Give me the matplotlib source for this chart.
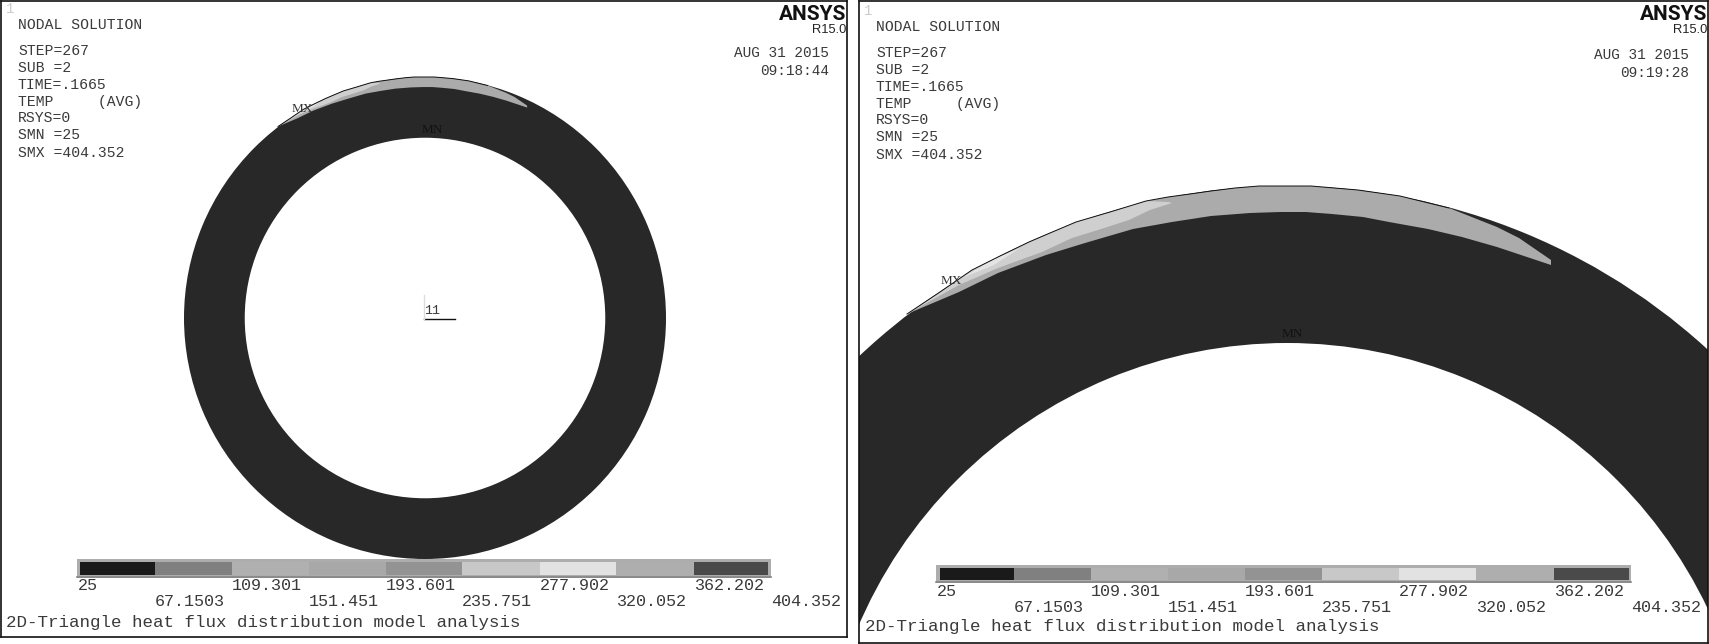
# ANSYS nodal temperature plots, whole ring on the left and close-up on the right
import matplotlib
matplotlib.use("Agg")
import numpy as np
import matplotlib.pyplot as plt
from matplotlib.patches import Wedge, Polygon, Rectangle

W, H = 1709, 644

# colour scale
level_labels = ["25", "67.1503", "109.301", "151.451", "193.601",
                "235.751", "277.902", "320.052", "362.202", "404.352"]
level_colors = ["#1a1a1a", "#808080", "#b0b0b0", "#a8a8a8", "#939393",
                "#c8c8c8", "#e2e2e2", "#aeaeae", "#4a4a4a"]

# info block
info_lines = ["NODAL SOLUTION", "STEP=267", "SUB =2", "TIME=.1665",
              "TEMP     (AVG)", "RSYS=0", "SMN =25", "SMX =404.352"]
info_y = [25, 51, 68, 85, 102, 118, 135, 153]
title_text = "2D-Triangle heat flux distribution model analysis"
dates = ["AUG 31 2015", "AUG 31 2015"]
times = ["09:18:44", "09:19:28"]

edge_x = [907, 940, 972, 1000, 1029, 1050, 1076, 1110, 1146, 1168, 1190, 1211, 1235,
          1259, 1287, 1311, 1358, 1400, 1449]
edge_y = [314, 292, 270, 256, 242, 233, 222, 212, 201, 197, 194, 191, 188,
          186, 186, 186, 190, 196, 208]
band_in_x = [907, 959, 998, 1046, 1085, 1133, 1172, 1211, 1250, 1280, 1306, 1332, 1363,
             1389, 1428, 1462, 1497, 1551, 1551, 1519, 1497]
band_in_y = [314, 292, 273, 255, 243, 229, 222, 216, 213, 212, 212, 214, 217,
             222, 229, 237, 247, 265, 260, 238, 227]
light_x = [1168, 1172, 1150, 1129, 1098, 1072, 1042, 998, 959]
light_y = [202, 203, 210, 220, 230, 238, 252, 268, 285]
pale_x = [962, 994, 1020, 994]
pale_y = [278, 259, 248, 265]

ZOOM_C = (1287, 809)
ZOOM_R_OUT, ZOOM_R_IN = 623, 466

FONT = "Liberation Mono"
TXT = "#3a3a3a"
DARK = "#282828"


def to_panel(xs, ys, c, s):
    # close-up pixels -> pixels of the given view
    x = c[0] + (np.array(xs) - ZOOM_C[0]) * s
    y = c[1] + (np.array(ys) - ZOOM_C[1]) * s
    return x, y


def draw_panel(ax, box, c, s, bar, edges, info_dx, info_dy, lab_y, title_pos, right,
               date_x, date_y, mx, mn, date, time):
    x0, y0, x1, y1 = box
    ax.set_xlim(x0, x1)
    ax.set_ylim(y1, y0)
    ax.set_xticks([])
    ax.set_yticks([])
    for sp in ax.spines.values():
        sp.set_linewidth(1.2)
        sp.set_color("#111111")

    # ring
    ax.add_patch(Wedge(c, ZOOM_R_OUT * s, 0, 360, width=(ZOOM_R_OUT - ZOOM_R_IN) * s,
                       fc=DARK, ec="none"))
    # the band runs along the inner line, then back over the outer edge
    band_xs = band_in_x + edge_x[::-1][:-1]
    band_ys = band_in_y + edge_y[::-1][:-1]
    # light zone shares the outer edge up to x=1146
    light_xs = edge_x[:9] + light_x
    light_ys = edge_y[:9] + light_y
    for xs, ys, col in [(band_xs, band_ys, "#ababab"), (light_xs, light_ys, "#cfcfcf"),
                        (pale_x, pale_y, "#e4e4e4")]:
        px, py = to_panel(xs, ys, c, s)
        ax.add_patch(Polygon(np.column_stack([px, py]), fc=col, ec="none"))
    px, py = to_panel(edge_x, edge_y, c, s)
    ax.plot(px, py, color="#111111", lw=0.7)

    # legend bar
    ax.add_patch(Rectangle((bar[0], bar[1]), bar[2] - bar[0], bar[3] - bar[1],
                           fc="#adadad", ec="none"))
    ax.plot([bar[0], bar[2]], [bar[3] - 1, bar[3] - 1], color="#858585", lw=1.2)
    for i, col in enumerate(level_colors):
        ax.add_patch(Rectangle((edges[i], bar[1] + 3), edges[i + 1] - edges[i],
                               bar[3] - bar[1] - 6, fc=col, ec="none"))
    lab_x = [bar[0] + 1] + edges[1:-1] + [bar[2]]
    for i, lab in enumerate(level_labels):
        ax.text(lab_x[i], lab_y[i % 2], lab, family=FONT, fontsize=12.1, color=TXT,
                ha="left", va="center")
    ax.text(title_pos[0], title_pos[1], title_text, family=FONT, fontsize=12.6, color=TXT,
            ha="left", va="center")

    # info block
    for line, y in zip(info_lines, info_y):
        ax.text(18 + info_dx, y + info_dy, line, family=FONT, fontsize=10.6, color=TXT,
                ha="left", va="center")
    ax.text(10 + info_dx, 9 + info_dy, "1", family=FONT, fontsize=10, color="#cccccc",
            ha="center", va="center")

    ax.text(right, 14, "ANSYS", family="Roboto", fontweight="bold", fontsize=15,
            color="#111111", ha="right", va="center")
    ax.text(right, 30, "R15.0", family="Liberation Sans", fontsize=9.3, color="#222222",
            ha="right", va="center")
    ax.text(date_x, date_y, date, family=FONT, fontsize=10.4, color=TXT, ha="right", va="center")
    ax.text(date_x, date_y + 18, time, family=FONT, fontsize=10.4, color=TXT, ha="right", va="center")

    ax.text(mx[0], mx[1], "MX", family="Liberation Serif", fontsize=9.5, color="#333333",
            ha="center", va="center")
    ax.text(mn[0], mn[1], "MN", family="Liberation Serif", fontsize=9.5, color="#111111",
            ha="center", va="center")


fig = plt.figure(figsize=(W / 100, H / 100), dpi=100, facecolor="white")


def panel_axes(box):
    x0, y0, x1, y1 = box
    return fig.add_axes([x0 / W, 1 - y1 / H, (x1 - x0) / W, (y1 - y0) / H])


left_box = (0.5, 0.5, 847, 637)
right_box = (859, 1, 1708, 643)
ax1 = panel_axes(left_box)
ax2 = panel_axes(right_box)

draw_panel(ax1, left_box, (425, 318), 241 / ZOOM_R_OUT, (77, 559, 771, 578),
           [80, 155, 232, 309, 386, 462, 540, 616, 694, 768], 0, 0, (586, 602), (6, 622), 846,
           829, 53, (302, 109), (432, 130), dates[0], times[0])
draw_panel(ax2, right_box, ZOOM_C, 1.0, (936, 565, 1631, 583),
           [940, 1014, 1091, 1168, 1245, 1322, 1399, 1476, 1554, 1629], 858, 2, (591, 607), (865, 627), 1707,
           1689, 55, (951, 281), (1292, 334), dates[1], times[1])

# coordinate system marker in the whole ring view
ax1.plot([424, 455], [319, 319], color="#111111", lw=1)
ax1.plot([424, 424], [295, 319], color="#dddddd", lw=1)
ax1.text(424, 311, "11", family=FONT, fontsize=9.5, color=TXT, ha="left", va="center")

fig.savefig("out.png", dpi=100)
